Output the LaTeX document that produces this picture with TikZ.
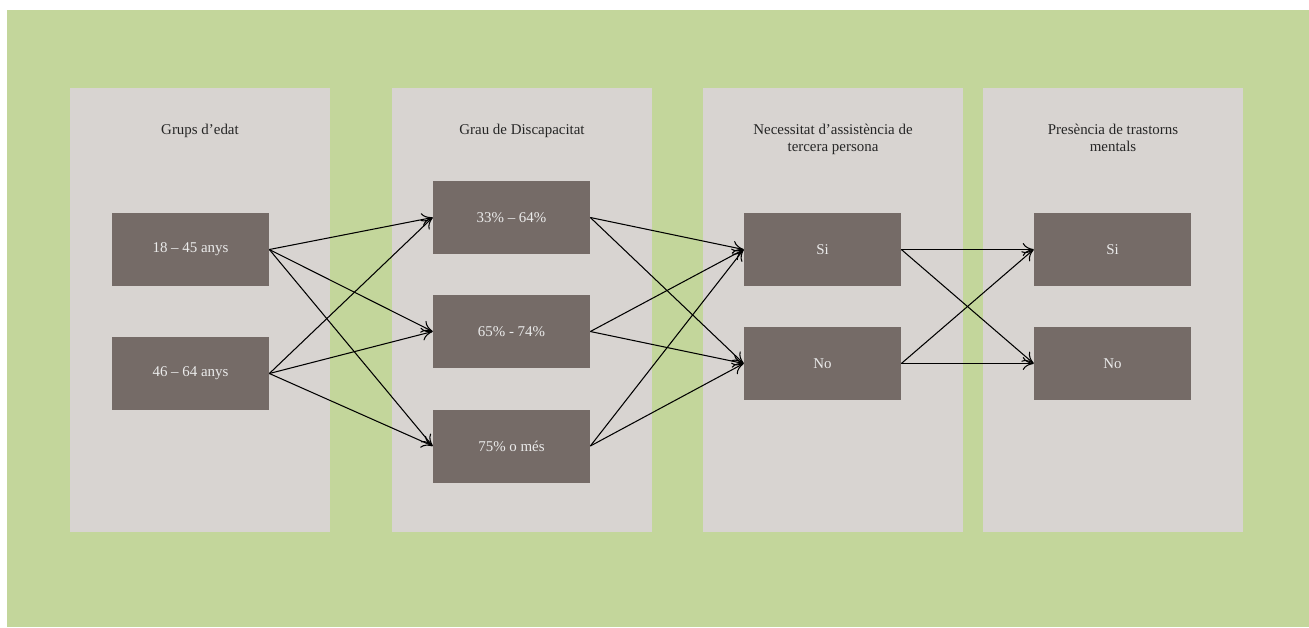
\documentclass[tikz,border=0pt]{standalone}
\usepackage{fontspec}
\setmainfont{Liberation Serif}
\usetikzlibrary{positioning, arrows.meta}

\definecolor{bggreen}{HTML}{C3D69B}
\definecolor{panelgray}{HTML}{D8D4D1}
\definecolor{boxgray}{HTML}{756B67}

\begin{document}
\begin{tikzpicture}[
        x=0.02cm, y=-0.02cm,
        panel/.style={rectangle, fill=panelgray, minimum width=5.2cm, minimum height=8.88cm, inner sep=0pt, anchor=north west},
        title/.style={anchor=north, align=center, inner sep=0pt, font=\fontsize{8.5}{9.7}\selectfont, text=black!85},
        item/.style={rectangle, fill=boxgray, minimum width=3.14cm, minimum height=1.46cm, inner sep=0pt, text=white!92!black, font=\fontsize{8.5}{10}\selectfont},
        link/.style={-{To[length=2.2mm, width=2.6mm]}, semithick}
    ]
        \useasboundingbox (0,0) rectangle (1309,627);
        \fill[bggreen] (7,10) rectangle (1309,627);

        % Columns
        \node[panel] (p1) at (70,88) {};
        \node[panel] (p2) at (392,88) {};
        \node[panel] (p3) at (703,88) {};
        \node[panel] (p4) at (983,88) {};

        \node[title] at (200,124) {Grups d’edat};
        \node[title] at (522,124) {Grau de Discapacitat};
        \node[title] at (833,124) {Necessitat d’assistència de\\tercera persona};
        \node[title] at (1113,124) {Presència de trastorns\\mentals};

        % Age groups
        \node[item] (a1) at (190.5,249.5) {18 – 45 anys};
        \node[item] (a2) at (190.5,373.5) {46 – 64 anys};

        % Degree of disability
        \node[item] (d1) at (511.5,217.5) {33\% – 64\%};
        \node[item] (d2) at (511.5,331.5) {65\% - 74\%};
        \node[item] (d3) at (511.5,446) {75\% o més};

        % Third person assistance
        \node[item] (t1) at (822.5,249.5) {Si};
        \node[item] (t2) at (822.5,363.5) {No};

        % Mental disorders
        \node[item] (m1) at (1112.5,249.5) {Si};
        \node[item] (m2) at (1112.5,363.5) {No};

        \foreach \s in {a1,a2}
            \foreach \t in {d1,d2,d3}
                \draw[link] (\s.east) -- (\t.west);
        \foreach \s in {d1,d2,d3}
            \foreach \t in {t1,t2}
                \draw[link] (\s.east) -- (\t.west);
        \foreach \s in {t1,t2}
            \foreach \t in {m1,m2}
                \draw[link] (\s.east) -- (\t.west);
    \end{tikzpicture}
\end{document}
